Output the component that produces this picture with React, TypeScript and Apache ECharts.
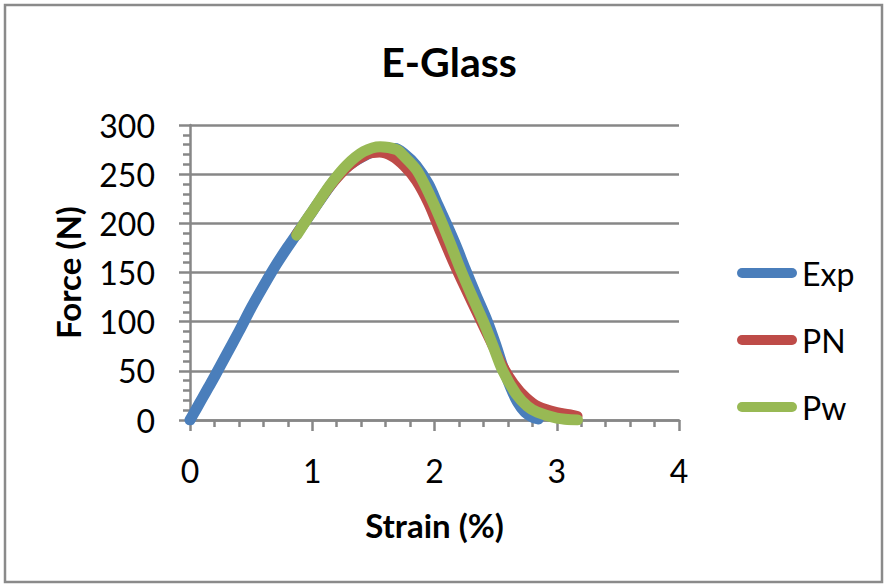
import React, { useEffect, useRef } from "react";
import * as echarts from "echarts";

const TITLE = "E-Glass";
const X_NAME = "Strain (%)";
const Y_NAME = "Force (N)";
const SERIES_NAMES = ["Exp", "PN", "Pw"];
const COLORS = ["#4A7EBB", "#BE4B48", "#98B954"];

// Exp: [strain %, force N]
const expData: [number, number][] = [
  [0, 0], [0.05, 11], [0.1, 22], [0.15, 33], [0.2, 44], [0.3, 67], [0.4, 90],
  [0.5, 114], [0.6, 136], [0.7, 157], [0.8, 176], [0.9, 194], [1.0, 212],
  [1.1, 230], [1.2, 247], [1.3, 259], [1.4, 267], [1.5, 273], [1.6, 276],
  [1.68, 276], [1.75, 271], [1.85, 259], [1.95, 240], [2.03, 218], [2.1, 199],
  [2.18, 176], [2.25, 154], [2.34, 127], [2.43, 101], [2.5, 77], [2.56, 54],
  [2.62, 34], [2.68, 18], [2.74, 8], [2.8, 3], [2.85, 1],
];

// PN
const pnData: [number, number][] = [
  [0.87, 189], [0.95, 203], [1.0, 212], [1.15, 238], [1.3, 258], [1.45, 270],
  [1.55, 272], [1.65, 268], [1.75, 258], [1.85, 243], [1.95, 220], [2.05, 190],
  [2.15, 161], [2.25, 134], [2.35, 108], [2.45, 82], [2.55, 57], [2.65, 37],
  [2.75, 23], [2.85, 14], [3.0, 8], [3.1, 6], [3.17, 4],
];

// Pw
const pwData: [number, number][] = [
  [0.873, 188], [0.95, 203], [1.01, 214], [1.146, 239], [1.28, 259],
  [1.42, 273], [1.555, 278], [1.69, 275], [1.745, 269], [1.855, 254],
  [1.964, 228], [2.07, 198], [2.15, 173], [2.22, 151], [2.31, 125], [2.4, 100],
  [2.48, 75], [2.555, 51], [2.67, 26], [2.76, 14], [2.84, 8], [3.0, 2],
  [3.17, 0],
];

const X_MIN = 0, X_MAX = 4, X_INTERVAL = 1;
const Y_MIN = 0, Y_MAX = 300, Y_INTERVAL = 50;

const FONT = "Lato, 'Open Sans', sans-serif";
const GRAY = "#878787";

export default function App() {
  const ref = useRef<HTMLDivElement>(null);

  useEffect(() => {
    if (!ref.current) return;
    const chart = echarts.init(ref.current, undefined, { renderer: "svg" });
    const datasets = [expData, pnData, pwData];
    chart.setOption({
      animation: false,
      backgroundColor: "#ffffff",
      title: {
        text: TITLE,
        left: 444,
        top: 36,
        textAlign: "center",
        textStyle: {
          fontFamily: FONT,
          fontWeight: "bold",
          fontSize: 41,
          color: "#000",
        },
      },
      legend: {
        orient: "vertical",
        left: 732,
        top: 252,
        itemWidth: 60,
        itemHeight: 10,
        itemGap: 35,
        icon: "path://M5,0 L55,0 A5,5 0 0 1 55,10 L5,10 A5,5 0 0 1 5,0 Z",
        textStyle: {
          fontFamily: FONT,
          fontSize: 32,
          lineHeight: 32,
          color: "#000",
          padding: [0, 0, 0, 0],
        },
        data: SERIES_NAMES,
      },
      graphic: [
        {
          type: "rect",
          shape: { x: 5, y: 5, width: 877, height: 577 },
          style: { fill: "none", stroke: "#8a8a8a", lineWidth: 2.5 },
          silent: true,
          z: -1,
        },
      ],
      grid: {
        left: 190,
        top: 125,
        width: 489,
        height: 295,
        containLabel: false,
      },
      xAxis: {
        type: "value",
        min: X_MIN,
        max: X_MAX,
        interval: X_INTERVAL,
        name: X_NAME,
        nameLocation: "middle",
        nameGap: 88,
        nameTextStyle: {
          fontFamily: FONT,
          fontWeight: "bold",
          fontSize: 33,
          color: "#000",
        },
        axisLine: { show: true, onZero: false, lineStyle: { color: GRAY, width: 2.5 } },
        axisTick: { show: true, length: 11, lineStyle: { color: GRAY, width: 2.5 } },
        minorTick: { show: true, splitNumber: 5, length: 7, lineStyle: { color: GRAY, width: 2.5 } },
        splitLine: { show: false },
        axisLabel: {
          margin: 34,
          fontFamily: FONT,
          fontSize: 32,
          color: "#000",
        },
      },
      yAxis: {
        type: "value",
        min: Y_MIN,
        max: Y_MAX,
        interval: Y_INTERVAL,
        name: Y_NAME,
        nameLocation: "middle",
        nameRotate: 90,
        nameGap: 106,
        nameTextStyle: {
          fontFamily: FONT,
          fontWeight: "bold",
          fontSize: 33,
          color: "#000",
        },
        axisLine: { show: true, onZero: false, lineStyle: { color: GRAY, width: 2.5 } },
        axisTick: { show: true, length: 11, lineStyle: { color: GRAY, width: 2.5 } },
        minorTick: { show: true, splitNumber: 5, length: 7, lineStyle: { color: GRAY, width: 2.5 } },
        splitLine: { show: true, lineStyle: { color: GRAY, width: 2.5 } },
        axisLabel: {
          margin: 35,
          fontFamily: FONT,
          fontSize: 32,
          color: "#000",
        },
      },
      series: SERIES_NAMES.map((name, i) => ({
        name,
        type: "line",
        data: datasets[i],
        showSymbol: false,
        symbol: "none",
        smooth: 0.3,
        color: COLORS[i],
        lineStyle: { color: COLORS[i], width: i === 1 ? 10 : 11, cap: "round", join: "round" },
        z: 2 + i,
      })),
    });
    return () => chart.dispose();
  }, []);

  return (
    <div
      ref={ref}
      style={{ position: "fixed", left: 0, top: 0, width: 885, height: 584 }}
    />
  );
}
